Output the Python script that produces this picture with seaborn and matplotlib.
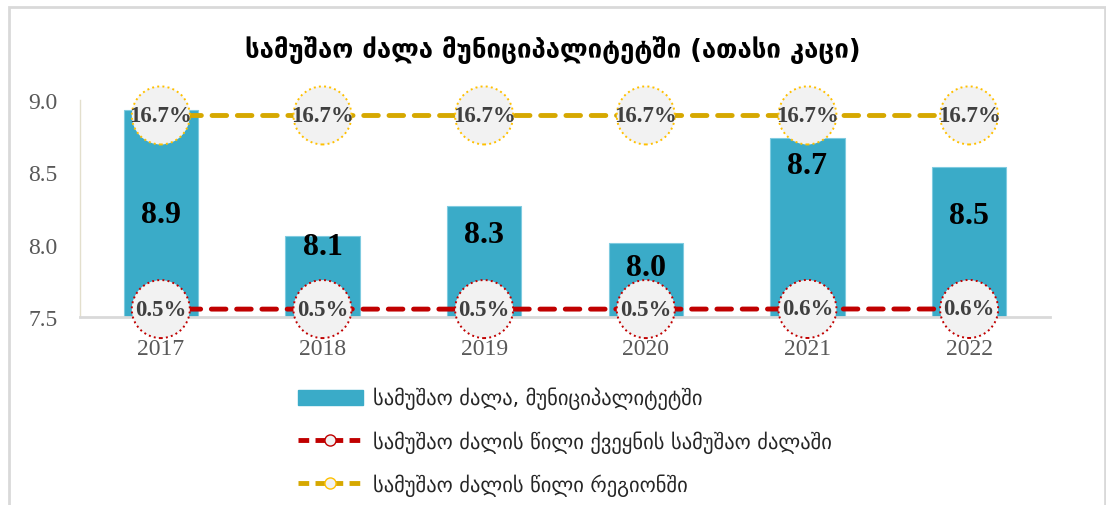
import numpy as np
import pandas as pd
import matplotlib
matplotlib.use("Agg")
import matplotlib.pyplot as plt
import seaborn as sns
from matplotlib.lines import Line2D
from matplotlib.patches import Patch, Rectangle

# --- data ---
years = ["2017", "2018", "2019", "2020", "2021", "2022"]
workforce = [8.93, 8.06, 8.27, 8.01, 8.74, 8.54]          # thousand people
share_country = [0.54, 0.54, 0.54, 0.54, 0.55, 0.55]      # %, shown as 0.5 / 0.6
share_region = [16.7, 16.7, 16.7, 16.7, 16.7, 16.7]       # %

title = "სამუშაო ძალა მუნიციპალიტეტში (ათასი კაცი)"
lbl_bar = "სამუშაო ძალა, მუნიციპალიტეტში"
lbl_country = "სამუშაო ძალის წილი ქვეყნის სამუშაო ძალაში"
lbl_region = "სამუშაო ძალის წილი რეგიონში"

# where the bar value labels sit (data units, hand placed in the original)
bar_label_y = [8.21, 7.99, 8.07, 7.84, 8.55, 8.20]

BAR = "#3AABC8"
RED = "#C00000"
GOLD = "#D6A800"
GOLD_EDGE = "#FFC000"
SERIF = "Liberation Serif"

df = pd.DataFrame({"year": years, "workforce": workforce,
                   "country": share_country, "region": share_region})

sns.set_style("white")
plt.rcParams["font.family"] = ["DejaVu Sans"]

fig = plt.figure(figsize=(11.06, 5.06), dpi=100)
ax = fig.add_axes([0.0723, 0.3715, 0.877, 0.4289])

# outer frame
fig.patches.append(Rectangle((9 / 1106, -0.1), (1105 - 9) / 1106, 1.1 - 8 / 506,
                             transform=fig.transFigure, fill=False,
                             ec="#D9D9D9", lw=2))

# bars
sns.barplot(data=df, x="year", y="workforce", color=BAR, width=0.46,
            saturation=1, edgecolor="#7FCBE0", linewidth=0.8, ax=ax)
ax.set_ylim(7.5, 9.0)
ax.set_xlim(-0.5, 5.5)
ax.set_yticks([7.5, 8.0, 8.5, 9.0])
ax.set_yticklabels(["7.5", "8.0", "8.5", "9.0"], family=SERIF,
                   fontsize=17, color="#595959")
ax.set_xticks(range(len(years)))
ax.set_xticklabels(years, family=SERIF, fontsize=17, color="#595959")
ax.tick_params(axis="y", length=0, pad=16)
ax.tick_params(axis="x", length=0, pad=15)
ax.set_xlabel("")
ax.set_ylabel("")
for s in ["top", "right"]:
    ax.spines[s].set_visible(False)
ax.spines["left"].set_color("#E3DFCC")
ax.spines["left"].set_linewidth(1)
ax.spines["bottom"].set_color("#D9D9D9")
ax.spines["bottom"].set_linewidth(2)

for i, (v, ly) in enumerate(zip(workforce, bar_label_y)):
    ax.text(i, ly, f"{v:.1f}", ha="center", va="center", family=SERIF,
            fontsize=23, fontweight="bold", color="black")

# secondary axis for the shares
ax2 = ax.twinx()
sns.lineplot(x=range(len(years)), y=share_region, color=GOLD, lw=3.5,
             dashes=False, ax=ax2)
sns.lineplot(x=range(len(years)), y=share_country, color=RED, lw=3.5,
             dashes=False, ax=ax2)
for ln in ax2.get_lines():
    ln.set_linestyle((0, (3, 2.2)))
    ln.set_dash_capstyle("round")

ax2.scatter(range(len(years)), share_region, s=1745, c="#F2F2F2",
            edgecolors=GOLD_EDGE, linewidths=1.4, linestyle=":", zorder=5,
            clip_on=False)
ax2.scatter(range(len(years)), share_country, s=1745, c="#F2F2F2",
            edgecolors=RED, linewidths=1.4, linestyle=":", zorder=5,
            clip_on=False)
ax2.set_ylim(-0.12, 17.99)
ax2.set_xlim(-0.5, 5.5)
ax2.axis("off")

for i, v in enumerate(share_region):
    ax2.text(i, v, f"{v:.1f}%", ha="center", va="center", family=SERIF,
             fontsize=16.5, fontweight="bold", color="#404040", zorder=6)
for i, v in enumerate(share_country):
    ax2.text(i, v, f"{v:.1f}%", ha="center", va="center", family=SERIF,
             fontsize=16.5, fontweight="bold", color="#404040", zorder=6)

fig.text(0.5, 1 - 50 / 506, title, ha="center", va="center",
         fontsize=18.5, fontweight="bold", color="black")

handles = [
    Patch(facecolor=BAR, edgecolor=BAR),
    Line2D([], [], color=RED, lw=3.5, ls=(0, (2.2, 1.3)), marker="o",
           markersize=8, markerfacecolor="#F2F2F2", markeredgecolor=RED,
           markeredgewidth=1),
    Line2D([], [], color=GOLD, lw=3.5, ls=(0, (2.2, 1.3)), marker="o",
           markersize=8, markerfacecolor="#F2F2F2", markeredgecolor=GOLD_EDGE,
           markeredgewidth=1),
]
fig.legend(handles, [lbl_bar, lbl_country, lbl_region], loc="upper left",
           bbox_to_anchor=(298 / 1106, 1 - 388 / 506), frameon=False,
           fontsize=14.8, handlelength=3.15, handleheight=0.7, handletextpad=0.5,
           labelspacing=1.0, borderpad=0, borderaxespad=0)

fig.savefig("out.png", dpi=100, facecolor="white")
